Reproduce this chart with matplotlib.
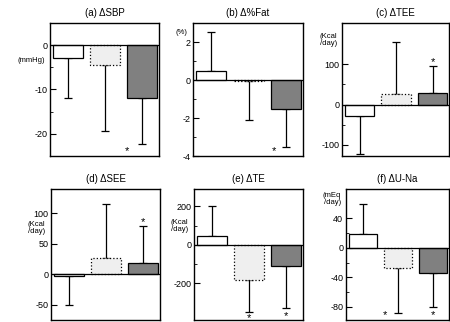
import matplotlib
matplotlib.use("Agg")
import matplotlib.pyplot as plt

plt.rcParams['font.family'] = ['Liberation Sans', 'DejaVu Sans']
plt.rcParams['axes.unicode_minus'] = False

# datos de cada panel: media del cambio y desviacion (una sola direccion)
titulos = ["(a) \u0394SBP", "(b) \u0394%Fat", "(c) \u0394TEE",
           "(d) \u0394SEE", "(e) \u0394TE", "(f) \u0394U-Na"]
unidades = ["(mmHg)", "(%)", "(Kcal\n/day)", "(Kcal\n/day)", "(Kcal\n/day)", "(mEq\n/day)"]

sbp = [-2.8, -4.5, -12.0]
sbp_err = [9.2, 14.8, 10.2]
fat = [0.5, -0.05, -1.55]
fat_err = [2.05, 2.05, 1.95]
tee = [-29, 27, 30]
tee_err = [93, 128, 65]
see = [-2, 26, 18]
see_err = [48, 90, 61]
te = [47, -182, -109]
te_err = [156, 166, 218]
una = [19, -27, -34]
una_err = [40, 62, 47]

medias = [sbp, fat, tee, see, te, una]
errores = [sbp_err, fat_err, tee_err, see_err, te_err, una_err]

limites = [(-25, 5), (-4, 3), (-128, 203), (-75, 140), (-390, 290), (-98, 80)]
mayores = [[0, -10, -20], [2, 0, -2, -4], [100, 0, -100], [100, 50, 0, -50],
           [200, 0, -200], [40, 0, -40, -80]]
menores = [[-5, -15], [1, -1, -3], [50, -50], [], [100, -100], [20, -20, -60]]

# asteriscos de significancia (x, y)
estrellas = [[(1.6, -23.8)], [(1.68, -3.75)], [(2, 105)], [(2, 86)],
             [(1, -380), (2, -370)], [(0.62, -91), (2, -91)]]
# posicion de la etiqueta de unidades (fraccion del eje)
pos_unidad = [0.72, 0.925, 0.87, 0.70, 0.72, 0.92]

colores = ["white", "#efefef", "#808080"]
estilos = ["-", ":", "-"]

# posiciones de los ejes en pixeles (izq, der, arriba, abajo)
cajas = [(50, 159, 23, 156), (193, 303, 23, 156), (342, 449, 23, 156),
         (51, 160, 189, 320), (194, 303, 189, 320), (346, 449, 189, 320)]

W, H = 450, 322
fig = plt.figure(figsize=(W / 100, H / 100), dpi=100)

for i in range(6):
    x0, x1, y0, y1 = cajas[i]
    ax = fig.add_axes([x0 / W, 1 - y1 / H, (x1 - x0) / W, (y1 - y0) / H])
    xs = [0, 1, 2]
    for j in range(3):
        ax.bar(xs[j], medias[i][j], width=0.8, color=colores[j], edgecolor="black",
               linewidth=0.9, linestyle=estilos[j], zorder=2)
        m = medias[i][j]
        e = errores[i][j]
        if m >= 0:
            yerr = [[0], [e]]
        else:
            yerr = [[e], [0]]
        ax.errorbar(xs[j], m, yerr=yerr, fmt="none", ecolor="black",
                    elinewidth=0.9, capsize=3, capthick=0.9, zorder=1)
    ax.axhline(0, color="black", lw=0.9, zorder=3)
    for (sx, sy) in estrellas[i]:
        ax.text(sx, sy, "*", ha="center", va="center", fontsize=8,
                clip_on=False, zorder=5)
    ax.set_xlim(-0.48, 2.45)
    ax.set_ylim(*limites[i])
    ax.set_yticks(mayores[i])
    ax.set_yticks(menores[i], minor=True)
    ax.set_xticks([])
    ax.tick_params(axis="y", which="both", direction="in", labelsize=6.5, pad=2)
    ax.tick_params(axis="y", which="major", length=4)
    ax.tick_params(axis="y", which="minor", length=2.5)
    for s in ax.spines.values():
        s.set_linewidth(1.0)
    ax.set_title(titulos[i], fontsize=7, pad=5)
    ax.text(-0.05, pos_unidad[i], unidades[i], transform=ax.transAxes,
            ha="right", va="center", fontsize=5.5, linespacing=1.0)

fig.savefig("out.png", dpi=100)
